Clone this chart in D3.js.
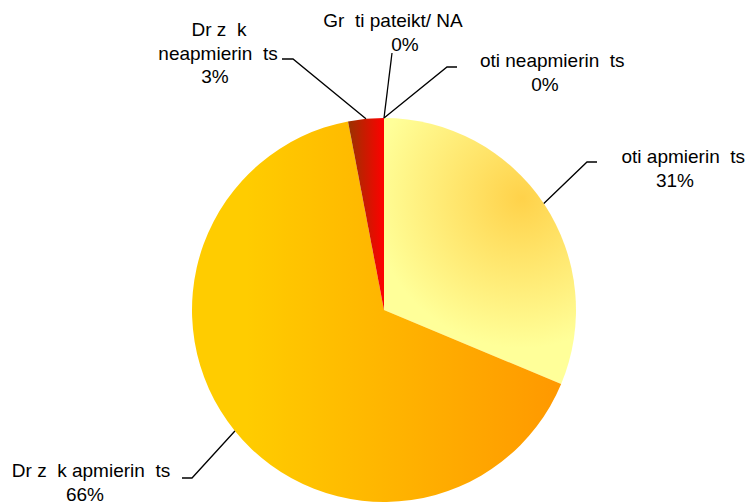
<!DOCTYPE html>
<html>
<head>
<meta charset="utf-8">
<script src="https://cdn.jsdelivr.net/npm/d3@7"></script>
<style>
  html, body { margin: 0; padding: 0; background: #fff; }
  svg { display: block; }
  text { font-family: "Liberation Sans", Arial, sans-serif; font-size: 19px; fill: #000; white-space: pre; }
</style>
</head>
<body>
<svg id="chart" width="751" height="504"></svg>
<script>
// ---- data ----
const categories = ["  oti apmierin  ts", "Dr z  k apmierin  ts", "Dr z  k neapmierin  ts", "  oti neapmierin  ts", "Gr  ti pateikt/ NA"];
const values = [31.3, 65.7, 3.0, 0, 0];
const percentLabels = ["31%", "66%", "3%", "0%", "0%"];

// ---- layout ----
const W = 751, H = 504;
const cx = 384, cy = 310, R = 192;
const lineH = 23.5;

const svg = d3.select("#chart");
const defs = svg.append("defs");

// gradients (coordinates relative to the pie centre)
const g0 = defs.append("radialGradient").attr("id", "gr0").attr("gradientUnits", "userSpaceOnUse")
  .attr("cx", 522 - cx).attr("cy", 198 - cy).attr("r", 150);
g0.append("stop").attr("offset", 0).attr("stop-color", "#FFD24A");
g0.append("stop").attr("offset", 0.35).attr("stop-color", "#FFE266");
g0.append("stop").attr("offset", 1).attr("stop-color", "#FFFF99");

const g1 = defs.append("linearGradient").attr("id", "gr1").attr("gradientUnits", "userSpaceOnUse")
  .attr("x1", -R).attr("y1", 0).attr("x2", R * 0.9).attr("y2", 0);
g1.append("stop").attr("offset", 0.15).attr("stop-color", "#FFCC00");
g1.append("stop").attr("offset", 1).attr("stop-color", "#FF9900");

const g2 = defs.append("linearGradient").attr("id", "gr2").attr("x1", 0).attr("y1", 0).attr("x2", 1).attr("y2", 0);
g2.append("stop").attr("offset", 0).attr("stop-color", "#993300");
g2.append("stop").attr("offset", 1).attr("stop-color", "#FF0000");

const fills = ["url(#gr0)", "url(#gr1)", "url(#gr2)", "#FF0000", "#FF0000"];

const data = categories.map((c, i) => ({ cat: c, value: values[i], pct: percentLabels[i], fill: fills[i] }));

const pie = d3.pie().value(d => d.value).sort(null).startAngle(0).endAngle(2 * Math.PI);
const arcs = pie(data);
const arc = d3.arc().innerRadius(0).outerRadius(R);

const g = svg.append("g").attr("transform", `translate(${cx},${cy})`);
g.selectAll("path.slice").data(arcs).enter().append("path")
  .attr("class", "slice")
  .attr("d", arc)
  .attr("fill", d => d.data.fill);

// label annotation layout (text centres, first baseline, leader elbow/end)
const labelLayout = [
  { lines: [{ dx: 678 }, { dx: 675 }], y: 163, end: [597, 162], elbow: [587, 162] },
  { lines: [{ dx: 91 }, { dx: 85 }], y: 477, end: [182, 478], elbow: [192, 478] },
  { lines: [{ dx: 219 }, { dx: 218 }, { dx: 215 }], y: 36, end: [282, 59], elbow: [293, 59] },
  { lines: [{ dx: 547 }, { dx: 545 }], y: 67, end: [457, 67], elbow: [447, 67] },
  { lines: [{ dx: 393 }, { dx: 405 }], y: 27, end: [392, 53], elbow: null }
];

function splitLines(i) {
  const d = data[i];
  if (i === 2) return ["Dr z  k", "neapmierin  ts", d.pct];
  return [d.cat, d.pct];
}

arcs.forEach((a, i) => {
  const L = labelLayout[i];
  const mid = (a.startAngle + a.endAngle) / 2;
  const p = [cx + R * Math.sin(mid), cy - R * Math.cos(mid)];
  const pts = [p];
  if (L.elbow) pts.push(L.elbow);
  pts.push(L.end);
  svg.append("path")
    .attr("d", d3.line()(pts))
    .attr("fill", "none")
    .attr("stroke", "#000")
    .attr("stroke-width", 1.3);
  const lines = splitLines(i);
  const t = svg.append("text").attr("text-anchor", "middle");
  lines.forEach((ln, k) => {
    t.append("tspan")
      .attr("x", L.lines[k].dx)
      .attr("y", L.y + k * lineH)
      .text(ln);
  });
});
</script>
</body>
</html>
